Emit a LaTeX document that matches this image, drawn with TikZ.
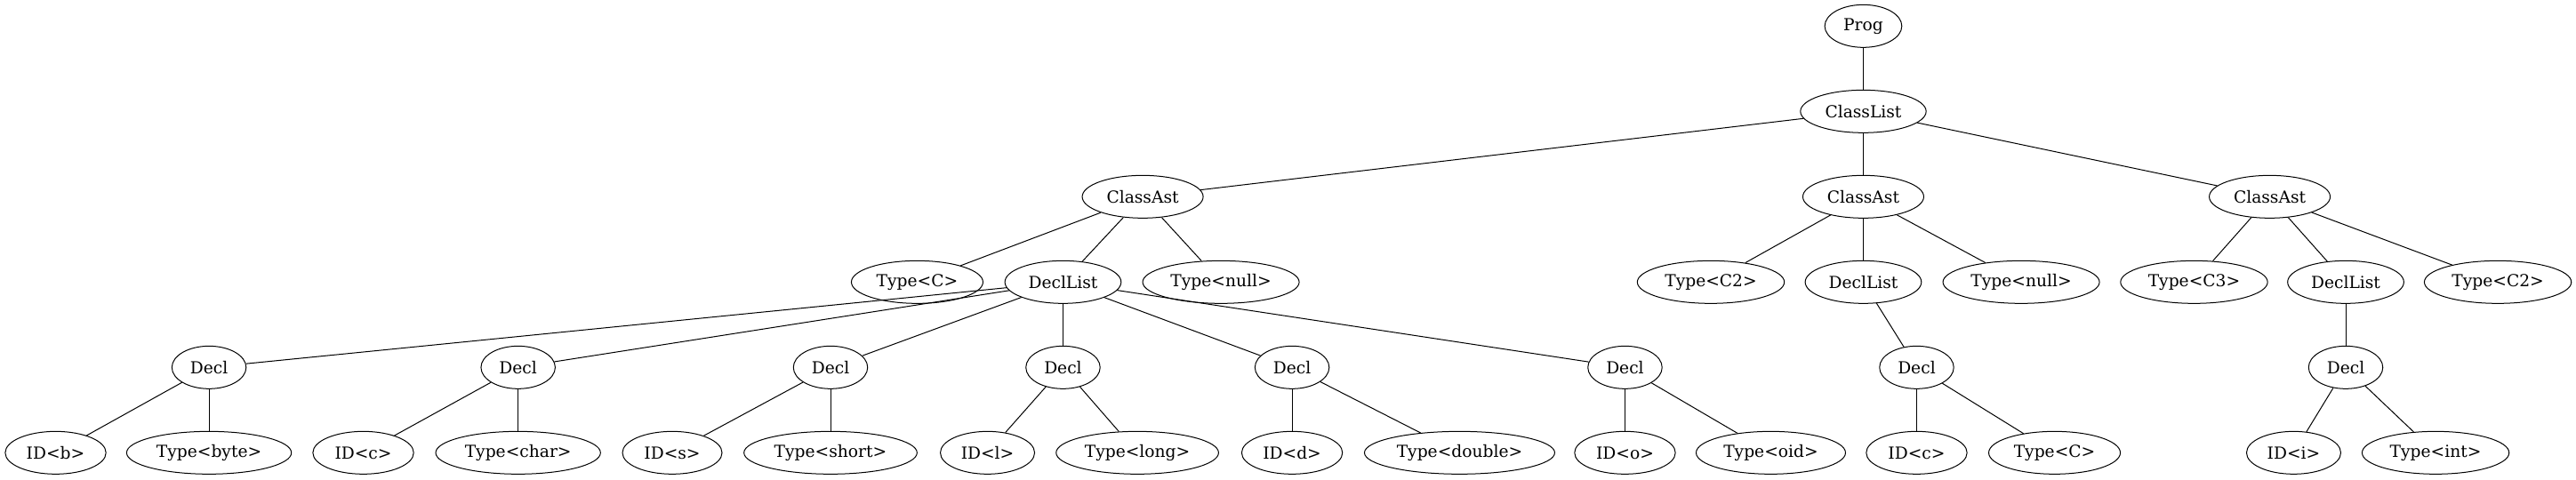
\documentclass[tikz,border=0pt]{standalone}
\usepackage{fontspec}
\setmainfont{DejaVu Serif}
\usepackage{tikz}
\usetikzlibrary{shapes.geometric}

\begin{document}
\begin{tikzpicture}[x=1pt, y=1pt, line width=0.75pt,
    astnode/.style={draw, ellipse, inner xsep=0pt, inner ysep=0pt, minimum width=#1, minimum height=36pt, font=\fontsize{14}{16.8}\selectfont},
    astnode/.default=62.6pt]

        \useasboundingbox (0, 0) rectangle (2172.75, -404.25);

        % UST KISIM
        \node[astnode=65pt] (prog) at (1571.6, -22) {Prog};
        \node[astnode=106pt] (classlist) at (1571.6, -94) {ClassList};
        \node[astnode=102pt] (classast_a) at (963.8, -166) {ClassAst};
        \node[astnode=102pt] (classast_b) at (1571.6, -166) {ClassAst};
        \node[astnode=102pt] (classast_c) at (1914.4, -166) {ClassAst};

        % SINIF ICERIKLERI
        \node[astnode=111pt] (type_c_a) at (773.6, -238) {Type<C>};
        \node[astnode=98pt] (decllist_a) at (896.6, -238) {DeclList};
        \node[astnode=132pt] (type_null_a) at (1029.8, -238) {Type<null>};
        \node[astnode=124pt] (type_c2_b) at (1443.0, -238) {Type<C2>};
        \node[astnode=98pt] (decllist_b) at (1571.6, -238) {DeclList};
        \node[astnode=132pt] (type_null_b) at (1704.8, -238) {Type<null>};
        \node[astnode=124pt] (type_c3_c) at (1850.6, -238) {Type<C3>};
        \node[astnode=98pt] (decllist_c) at (1978.5, -238) {DeclList};
        \node[astnode=124pt] (type_c2_c) at (2106.8, -238) {Type<C2>};

        % DECL DUGUMLERI
        \node[astnode] (decl_b) at (176.3, -310) {Decl};
        \node[astnode] (decl_c) at (437.0, -310) {Decl};
        \node[astnode] (decl_s) at (700.5, -310) {Decl};
        \node[astnode] (decl_l) at (896.6, -310) {Decl};
        \node[astnode] (decl_d) at (1089.8, -310) {Decl};
        \node[astnode] (decl_o) at (1370.6, -310) {Decl};
        \node[astnode] (decl_cc) at (1616.6, -310) {Decl};
        \node[astnode] (decl_i) at (1978.5, -310) {Decl};

        % YAPRAKLAR
        \node[astnode=85pt] (id_b) at (46.9, -382) {ID<b>};
        \node[astnode=139pt] (type_byte) at (176.3, -382) {Type<byte>};
        \node[astnode=85pt] (id_c) at (306.4, -382) {ID<c>};
        \node[astnode=139pt] (type_char) at (437.0, -382) {Type<char>};
        \node[astnode=84pt] (id_s) at (567.0, -382) {ID<s>};
        \node[astnode=146pt] (type_short) at (700.5, -382) {Type<short>};
        \node[astnode=79.5pt] (id_l) at (832.9, -382) {ID<l>};
        \node[astnode=137pt] (type_long) at (959.3, -382) {Type<long>};
        \node[astnode=85pt] (id_d) at (1089.8, -382) {ID<d>};
        \node[astnode=160.5pt] (type_double) at (1231.1, -382) {Type<double>};
        \node[astnode=85pt] (id_o) at (1370.6, -382) {ID<o>};
        \node[astnode=126pt] (type_oid) at (1493.6, -382) {Type<oid>};
        \node[astnode=85pt] (id_cc) at (1616.6, -382) {ID<c>};
        \node[astnode=111pt] (type_cc) at (1732.9, -382) {Type<C>};
        \node[astnode=79.5pt] (id_i) at (1934.6, -382) {ID<i>};
        \node[astnode=124pt] (type_int) at (2054.3, -382) {Type<int>};

        % Kenarlar
        \draw (prog) -- (classlist);
        \draw (classlist) -- (classast_a);
        \draw (classlist) -- (classast_b);
        \draw (classlist) -- (classast_c);

        \draw (classast_a) -- (type_c_a);
        \draw (classast_a) -- (decllist_a);
        \draw (classast_a) -- (type_null_a);
        \draw (classast_b) -- (type_c2_b);
        \draw (classast_b) -- (decllist_b);
        \draw (classast_b) -- (type_null_b);
        \draw (classast_c) -- (type_c3_c);
        \draw (classast_c) -- (decllist_c);
        \draw (classast_c) -- (type_c2_c);

        \draw (decllist_a) -- (decl_b);
        \draw (decllist_a) -- (decl_c);
        \draw (decllist_a) -- (decl_s);
        \draw (decllist_a) -- (decl_l);
        \draw (decllist_a) -- (decl_d);
        \draw (decllist_a) -- (decl_o);
        \draw (decllist_b) -- (decl_cc);
        \draw (decllist_c) -- (decl_i);

        \draw (decl_b) -- (id_b);
        \draw (decl_b) -- (type_byte);
        \draw (decl_c) -- (id_c);
        \draw (decl_c) -- (type_char);
        \draw (decl_s) -- (id_s);
        \draw (decl_s) -- (type_short);
        \draw (decl_l) -- (id_l);
        \draw (decl_l) -- (type_long);
        \draw (decl_d) -- (id_d);
        \draw (decl_d) -- (type_double);
        \draw (decl_o) -- (id_o);
        \draw (decl_o) -- (type_oid);
        \draw (decl_cc) -- (id_cc);
        \draw (decl_cc) -- (type_cc);
        \draw (decl_i) -- (id_i);
        \draw (decl_i) -- (type_int);
    \end{tikzpicture}
\end{document}
